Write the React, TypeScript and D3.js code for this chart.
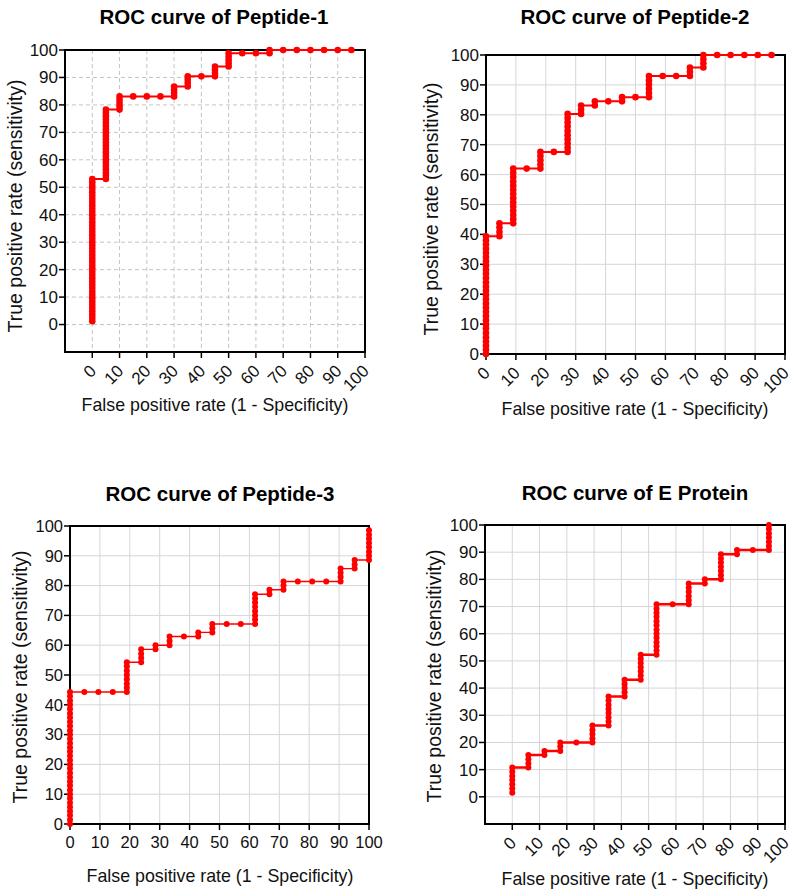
import React from "react";
import * as d3 from "d3";

const FONT = "Arial, 'Liberation Sans', Helvetica, sans-serif";

const tickValues = [0, 10, 20, 30, 40, 50, 60, 70, 80, 90, 100];
const titles = ["ROC curve of Peptide-1", "ROC curve of Peptide-2", "ROC curve of Peptide-3", "ROC curve of E Protein"];
const xAxisTitle = "False positive rate (1 - Specificity)";
const yAxisTitle = "True positive rate (sensitivity)";

// Peptide-1: columns of false positive rate, with sensitivity values at each
const pep1Fpr = [0, 5, 10, 15, 20, 25, 30, 35, 40, 45, 50, 55, 60, 65, 70, 75, 80, 85, 90, 95];
const pep1Tpr = [
  [1.2, 2.4, 3.6, 4.8, 6.0, 7.2, 8.4, 9.6, 10.8, 12.0, 13.3, 14.5, 15.7, 16.9, 18.1, 19.3, 20.5, 21.7, 22.9, 24.1, 25.3, 26.5, 27.7, 28.9, 30.1, 31.3, 32.5, 33.7, 34.9, 36.1, 37.3, 38.6, 39.8, 41.0, 42.2, 43.4, 44.6, 45.8, 47.0, 48.2, 49.4, 50.6, 51.8, 53.0],
  [53.0, 54.2, 55.4, 56.6, 57.8, 59.0, 60.2, 61.4, 62.7, 63.9, 65.1, 66.3, 67.5, 68.7, 69.9, 71.1, 72.3, 73.5, 74.7, 75.9, 77.1, 78.3],
  [78.3, 79.5, 80.7, 81.9, 83.1],
  [83.1],
  [83.1],
  [83.1],
  [83.1, 84.3, 85.5, 86.7],
  [86.7, 88.0, 89.2, 90.4],
  [90.4],
  [90.4, 91.6, 92.8, 94.0],
  [94.0, 95.2, 96.4, 97.6, 98.8],
  [98.8],
  [98.8],
  [98.8, 100],
  [100],
  [100],
  [100],
  [100],
  [100],
  [100],
];

// Peptide-2
const pep2Fpr = [0, 4.5, 9.1, 13.6, 18.2, 22.7, 27.3, 31.8, 36.4, 40.9, 45.5, 50.0, 54.5, 59.1, 63.6, 68.2, 72.7, 77.3, 81.8, 86.4, 90.9, 95.5];
const pep2Tpr = [
  [0, 1.4, 2.8, 4.2, 5.6, 7.0, 8.5, 9.9, 11.3, 12.7, 14.1, 15.5, 16.9, 18.3, 19.7, 21.1, 22.5, 23.9, 25.4, 26.8, 28.2, 29.6, 31.0, 32.4, 33.8, 35.2, 36.6, 38.0, 39.4],
  [39.4, 40.8, 42.3, 43.7],
  [43.7, 45.1, 46.5, 47.9, 49.3, 50.7, 52.1, 53.5, 54.9, 56.3, 57.7, 59.2, 60.6, 62.0],
  [62.0],
  [62.0, 63.4, 64.8, 66.2, 67.6],
  [67.6],
  [67.6, 69.0, 70.4, 71.8, 73.2, 74.6, 76.1, 77.5, 78.9, 80.3],
  [80.3, 81.7, 83.1],
  [83.1, 84.5],
  [84.5],
  [84.5, 85.9],
  [85.9],
  [85.9, 87.3, 88.7, 90.1, 91.5, 93.0],
  [93.0],
  [93.0],
  [93.0, 94.4, 95.8],
  [95.8, 97.2, 98.6, 100],
  [100],
  [100],
  [100],
  [100],
  [100],
];

// Peptide-3
const pep3Fpr = [0, 4.8, 9.5, 14.3, 19.0, 23.8, 28.6, 33.3, 38.1, 42.9, 47.6, 52.4, 57.1, 61.9, 66.7, 71.4, 76.2, 81.0, 85.7, 90.5, 95.2, 100];
const pep3Tpr = [
  [0, 1.4, 2.9, 4.3, 5.7, 7.1, 8.6, 10.0, 11.4, 12.9, 14.3, 15.7, 17.1, 18.6, 20.0, 21.4, 22.9, 24.3, 25.7, 27.1, 28.6, 30.0, 31.4, 32.9, 34.3, 35.7, 37.1, 38.6, 40.0, 41.4, 42.9, 44.3],
  [44.3],
  [44.3],
  [44.3],
  [44.3, 45.7, 47.1, 48.6, 50.0, 51.4, 52.9, 54.3],
  [54.3, 55.7, 57.1, 58.6],
  [58.6, 60.0],
  [60.0, 61.4, 62.9],
  [62.9],
  [62.9, 64.3],
  [64.3, 65.7, 67.1],
  [67.1],
  [67.1],
  [67.1, 68.6, 70.0, 71.4, 72.9, 74.3, 75.7, 77.1],
  [77.1, 78.6],
  [78.6, 80.0, 81.4],
  [81.4],
  [81.4],
  [81.4],
  [81.4, 82.9, 84.3, 85.7],
  [85.7, 87.1, 88.6],
  [88.6, 90.0, 91.4, 92.9, 94.3, 95.7, 97.1, 98.6],
];

// E Protein
const eFpr = [0, 5.9, 11.8, 17.6, 23.5, 29.4, 35.3, 41.2, 47.1, 52.9, 58.8, 64.7, 70.6, 76.5, 82.4, 88.2, 94.1];
const eTpr = [
  [1.5, 3.1, 4.6, 6.2, 7.7, 9.2, 10.8],
  [10.8, 12.3, 13.8, 15.4],
  [15.4, 16.9],
  [16.9, 18.5, 20.0],
  [20.0],
  [20.0, 21.5, 23.1, 24.6, 26.2],
  [26.2, 27.7, 29.2, 30.8, 32.3, 33.8, 35.4, 36.9],
  [36.9, 38.5, 40.0, 41.5, 43.1],
  [43.1, 44.6, 46.2, 47.7, 49.2, 50.8, 52.3],
  [52.3, 53.8, 55.4, 56.9, 58.5, 60.0, 61.5, 63.1, 64.6, 66.2, 67.7, 69.2, 70.8],
  [70.8],
  [70.8, 72.3, 73.8, 75.4, 76.9, 78.5],
  [78.5, 80.0],
  [80.0, 81.5, 83.1, 84.6, 86.2, 87.7, 89.2],
  [89.2, 90.8],
  [90.8],
  [90.8, 92.3, 93.8, 95.4, 96.9, 98.5, 100],
];

type PanelCfg = {
  title: string;
  fpr: number[];
  tpr: number[][];
  left: number;
  right: number;
  top: number;
  bottom: number;
  xDomain: [number, number];
  yDomain: [number, number];
  dashedGrid: boolean;
  rotateX: boolean;
  lineWidth: number;
  r: number;
  titlePos: [number, number];
  yLabelPos: [number, number];
  xLabelPos: [number, number];
  tickFont: number;
};

const panels: PanelCfg[] = [
  {
    title: titles[0], fpr: pep1Fpr, tpr: pep1Tpr,
    left: 65, right: 365, top: 50, bottom: 352,
    xDomain: [-10, 100], yDomain: [-10, 100],
    dashedGrid: true, rotateX: true, lineWidth: 2, r: 3.3,
    titlePos: [214, 24], yLabelPos: [22, 206], xLabelPos: [215, 411], tickFont: 17,
  },
  {
    title: titles[1], fpr: pep2Fpr, tpr: pep2Tpr,
    left: 486, right: 785, top: 55, bottom: 354,
    xDomain: [0, 100], yDomain: [0, 100],
    dashedGrid: false, rotateX: true, lineWidth: 2, r: 3.3,
    titlePos: [635, 24], yLabelPos: [438, 209], xLabelPos: [635, 415], tickFont: 17,
  },
  {
    title: titles[2], fpr: pep3Fpr, tpr: pep3Tpr,
    left: 70, right: 369, top: 526, bottom: 824,
    xDomain: [0, 100], yDomain: [0, 100],
    dashedGrid: false, rotateX: false, lineWidth: 1.4, r: 3,
    titlePos: [220, 501], yLabelPos: [27, 677], xLabelPos: [220, 882], tickFont: 16.5,
  },
  {
    title: titles[3], fpr: eFpr, tpr: eTpr,
    left: 485, right: 785, top: 525, bottom: 824,
    xDomain: [-10, 100], yDomain: [-10, 100],
    dashedGrid: false, rotateX: true, lineWidth: 2.5, r: 3,
    titlePos: [635, 500], yLabelPos: [441, 676], xLabelPos: [635, 885], tickFont: 17,
  },
];

function Panel({ cfg }: { cfg: PanelCfg }) {
  const x = d3.scaleLinear().domain(cfg.xDomain).range([cfg.left, cfg.right]);
  const y = d3.scaleLinear().domain(cfg.yDomain).range([cfg.bottom, cfg.top]);
  const points: [number, number][] = cfg.fpr.flatMap((f, i) => cfg.tpr[i].map((t) => [f, t] as [number, number]));
  const line = d3.line<[number, number]>().x((d) => x(d[0])).y((d) => y(d[1]));
  const gridColor = cfg.dashedGrid ? "#c4c4c4" : "#d6d6d6";
  const dash = cfg.dashedGrid ? "4,3" : undefined;
  const txt = "#111";
  return (
    <g>
      {tickValues.map((v) => (
        <line key={"gx" + v} x1={x(v)} x2={x(v)} y1={cfg.top} y2={cfg.bottom} stroke={gridColor} strokeWidth={1} strokeDasharray={dash} />
      ))}
      {tickValues.map((v) => (
        <line key={"gy" + v} x1={cfg.left} x2={cfg.right} y1={y(v)} y2={y(v)} stroke={gridColor} strokeWidth={1} strokeDasharray={dash} />
      ))}
      <rect x={cfg.left} y={cfg.top} width={cfg.right - cfg.left} height={cfg.bottom - cfg.top} fill="none" stroke="#000" strokeWidth={2} />
      {tickValues.map((v) => (
        <line key={"tx" + v} x1={x(v)} x2={x(v)} y1={cfg.bottom} y2={cfg.bottom + 6} stroke="#000" strokeWidth={1.5} />
      ))}
      {tickValues.map((v) => (
        <line key={"ty" + v} x1={cfg.left - 6} x2={cfg.left} y1={y(v)} y2={y(v)} stroke="#000" strokeWidth={1.5} />
      ))}
      {tickValues.map((v) =>
        cfg.rotateX ? (
          <text key={"lx" + v} transform={`translate(${x(v) + 5},${cfg.bottom + 20}) rotate(-45)`} textAnchor="end" fontSize={cfg.tickFont} fontFamily={FONT} fill={txt}>
            {v}
          </text>
        ) : (
          <text key={"lx" + v} x={x(v)} y={cfg.bottom + 24} textAnchor="middle" fontSize={cfg.tickFont} fontFamily={FONT} fill={txt}>
            {v}
          </text>
        )
      )}
      {tickValues.map((v) => (
        <text key={"ly" + v} x={cfg.left - 7} y={y(v)} dy="0.35em" textAnchor="end" fontSize={cfg.tickFont} fontFamily={FONT} fill={txt}>
          {v}
        </text>
      ))}
      <path d={line(points) || ""} fill="none" stroke="#ff0000" strokeWidth={cfg.lineWidth} />
      {points.map((p, i) => (
        <circle key={"p" + i} cx={x(p[0])} cy={y(p[1])} r={cfg.r} fill="#ff0000" />
      ))}
      <text x={cfg.titlePos[0]} y={cfg.titlePos[1]} textAnchor="middle" fontSize={20.5} fontWeight="bold" fontFamily={FONT} fill="#000">
        {cfg.title}
      </text>
      <text x={cfg.xLabelPos[0]} y={cfg.xLabelPos[1]} textAnchor="middle" fontSize={17.8} fontFamily={FONT} fill={txt}>
        {xAxisTitle}
      </text>
      <text transform={`translate(${cfg.yLabelPos[0]},${cfg.yLabelPos[1]}) rotate(-90)`} textAnchor="middle" fontSize={19.5} fontFamily={FONT} fill={txt}>
        {yAxisTitle}
      </text>
    </g>
  );
}

export default function App() {
  return (
    <svg width={796} height={895} style={{ position: "absolute", left: 0, top: 0, background: "#fff" }}>
      <rect x={0} y={0} width={796} height={895} fill="#fff" />
      {panels.map((p, i) => (
        <Panel key={i} cfg={p} />
      ))}
    </svg>
  );
}
